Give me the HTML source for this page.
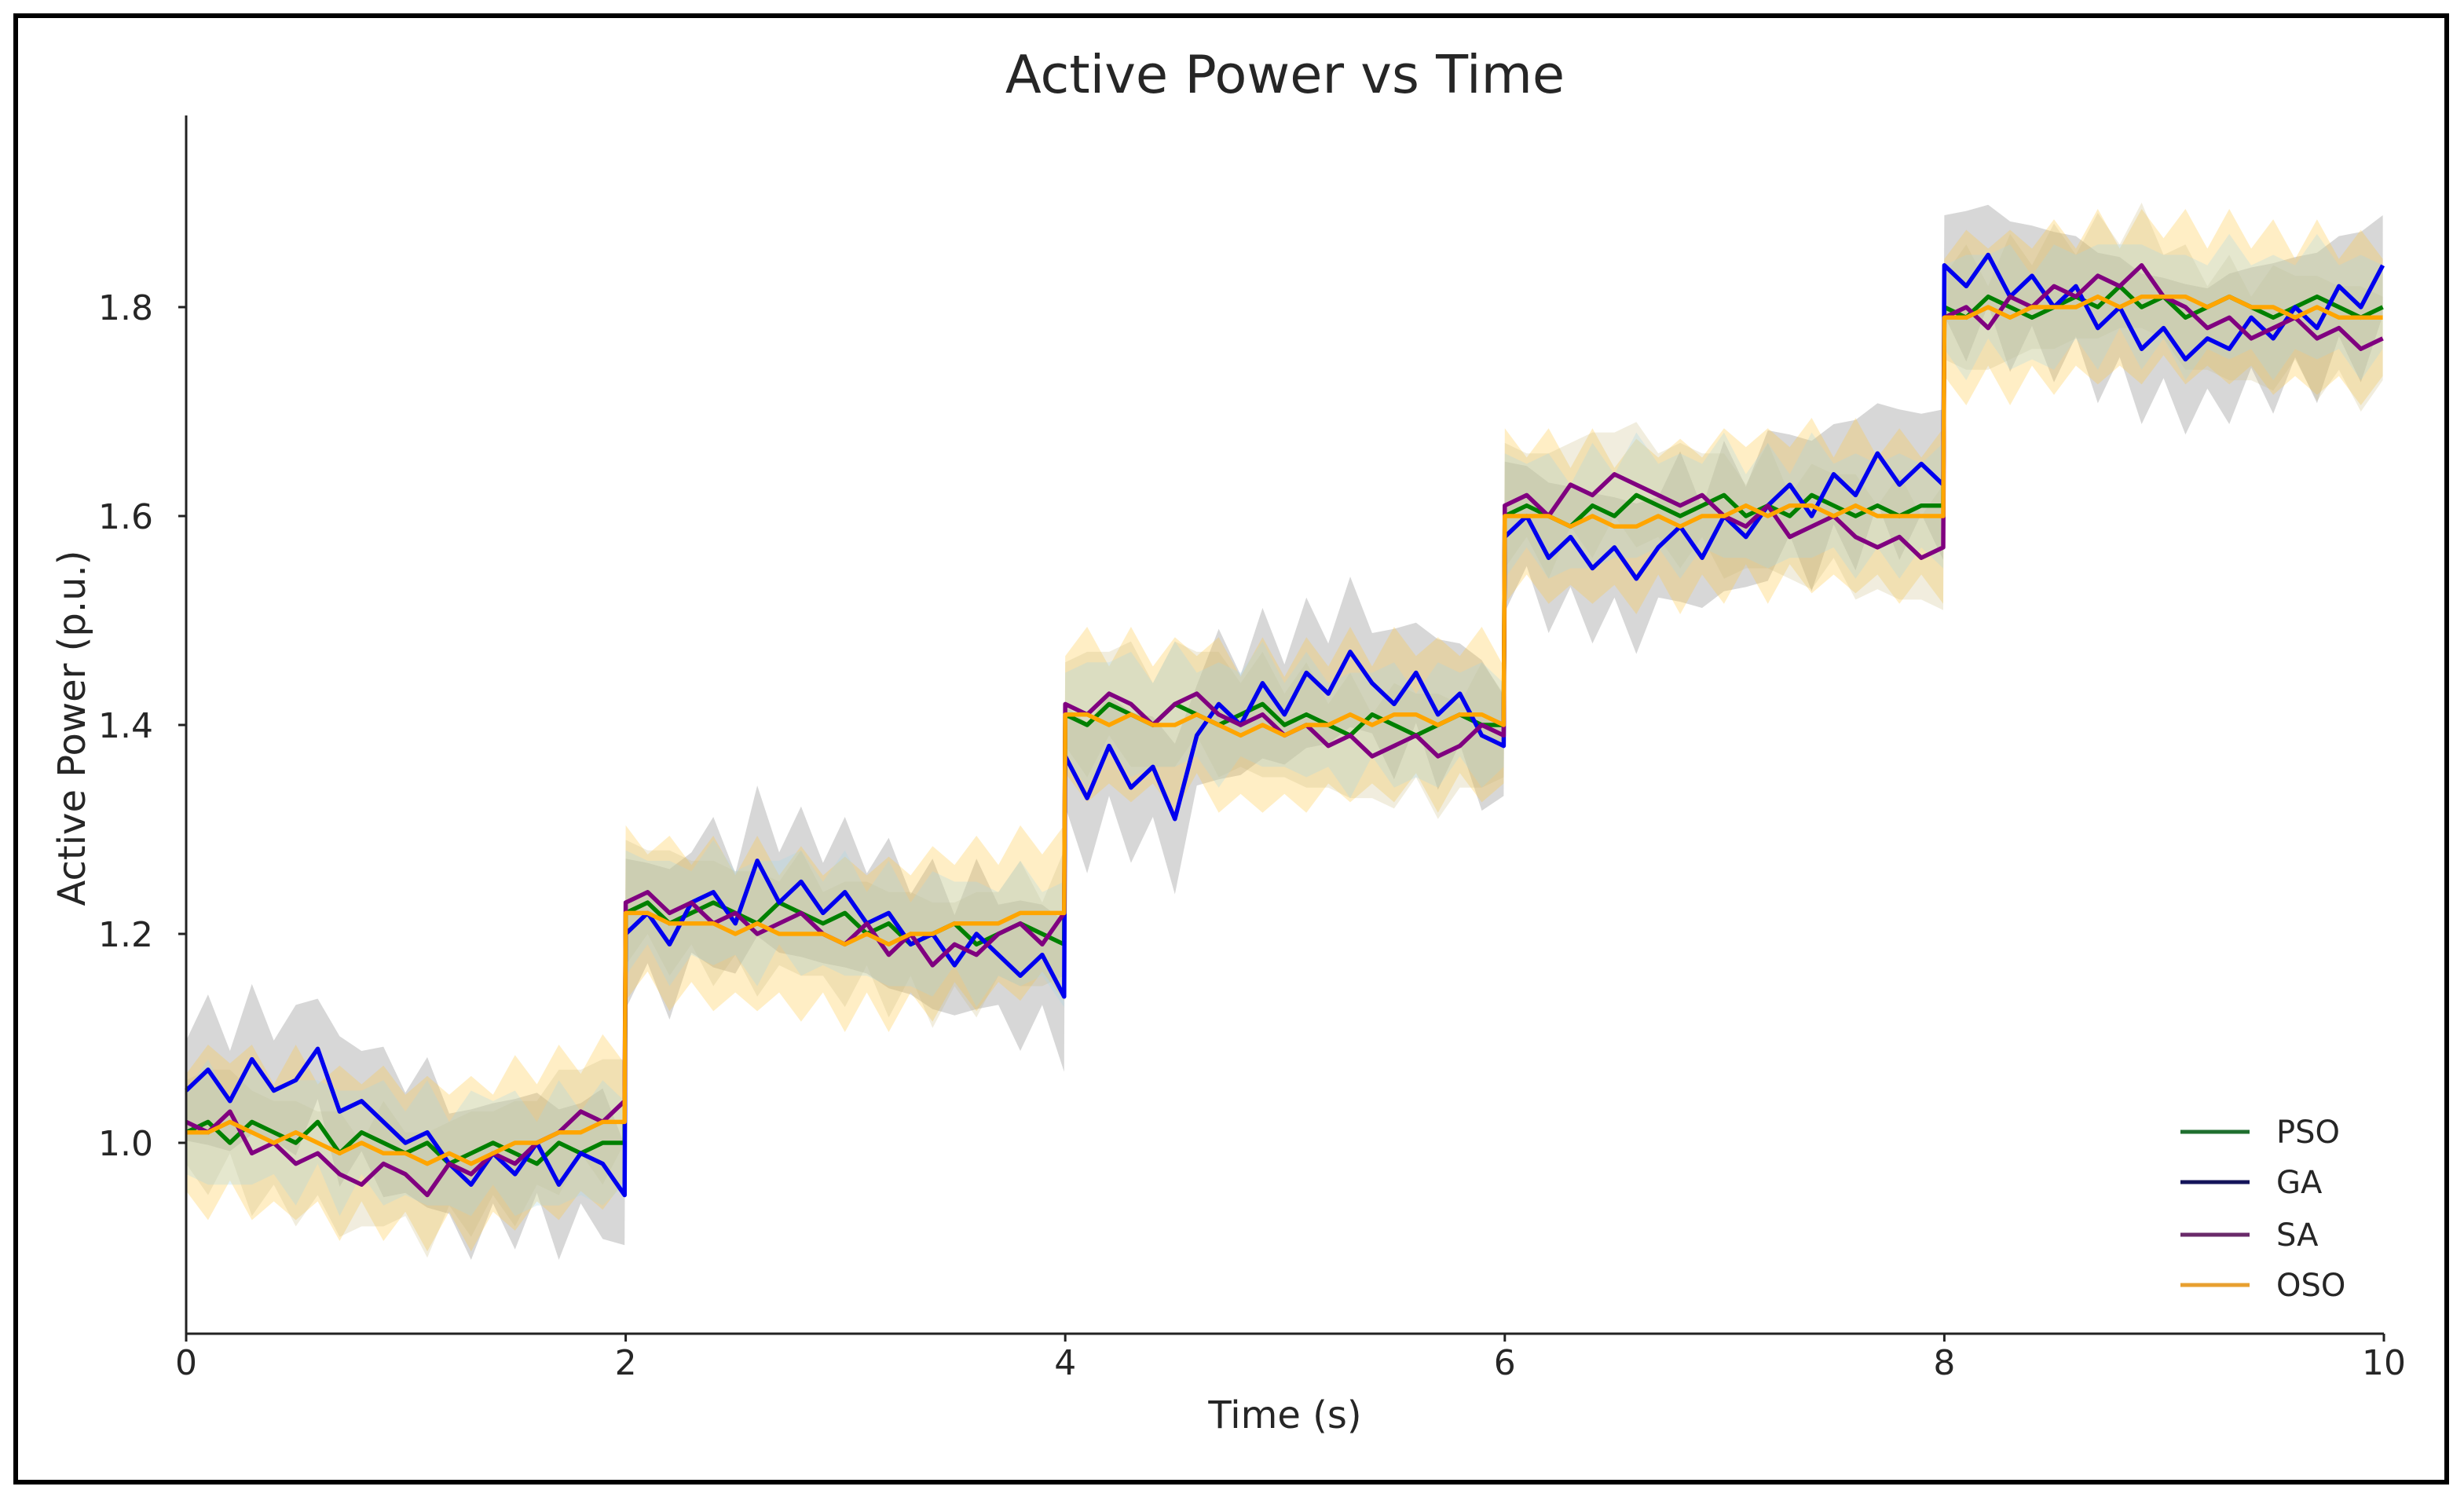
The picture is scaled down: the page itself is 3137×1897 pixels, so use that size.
<!DOCTYPE html>
<html><head><meta charset="utf-8"><style>
html,body{margin:0;padding:0;background:#fff}
svg{display:block}
text{font-family:"DejaVu Sans","Liberation Sans",sans-serif;fill:#262626}
</style></head><body>
<svg id="chart" width="3137" height="1897" viewBox="0 0 3137 1897" xmlns="http://www.w3.org/2000/svg">
<rect x="20" y="20" width="3095" height="1867" fill="#fff" stroke="#000" stroke-width="6"/>
<text x="1636" y="118" font-size="67" text-anchor="middle">Active Power vs Time</text>
<g id="bands"></g>
<g id="lines"></g>
<g id="axes"></g>
<text x="1636" y="1818" font-size="48" text-anchor="middle">Time (s)</text>
<text transform="translate(108,927) rotate(-90)" font-size="48" text-anchor="middle">Active Power (p.u.)</text>
<g id="legend"></g>
</svg>
<script>
const seriesNames = ["PSO","GA","SA","OSO"];
const pso = [1.01,1.02,1.00,1.02,1.01,1.00,1.02,0.99,1.01,1.00,0.99,1.00,0.98,0.99,1.00,0.99,0.98,1.00,0.99,1.00,1.00,
1.22,1.23,1.21,1.22,1.23,1.22,1.21,1.23,1.22,1.21,1.22,1.20,1.21,1.19,1.20,1.21,1.19,1.20,1.21,1.20,1.19,
1.41,1.40,1.42,1.41,1.40,1.42,1.41,1.40,1.41,1.42,1.40,1.41,1.40,1.39,1.41,1.40,1.39,1.40,1.41,1.40,1.40,
1.60,1.61,1.60,1.59,1.61,1.60,1.62,1.61,1.60,1.61,1.62,1.60,1.61,1.60,1.62,1.61,1.60,1.61,1.60,1.61,1.61,
1.80,1.79,1.81,1.80,1.79,1.80,1.81,1.80,1.82,1.80,1.81,1.79,1.80,1.81,1.80,1.79,1.80,1.81,1.80,1.79,1.80];
const ga = [1.05,1.07,1.04,1.08,1.05,1.06,1.09,1.03,1.04,1.02,1.00,1.01,0.98,0.96,0.99,0.97,1.00,0.96,0.99,0.98,0.95,
1.20,1.22,1.19,1.23,1.24,1.21,1.27,1.23,1.25,1.22,1.24,1.21,1.22,1.19,1.20,1.17,1.20,1.18,1.16,1.18,1.14,
1.37,1.33,1.38,1.34,1.36,1.31,1.39,1.42,1.40,1.44,1.41,1.45,1.43,1.47,1.44,1.42,1.45,1.41,1.43,1.39,1.38,
1.58,1.60,1.56,1.58,1.55,1.57,1.54,1.57,1.59,1.56,1.60,1.58,1.61,1.63,1.60,1.64,1.62,1.66,1.63,1.65,1.63,
1.84,1.82,1.85,1.81,1.83,1.80,1.82,1.78,1.80,1.76,1.78,1.75,1.77,1.76,1.79,1.77,1.80,1.78,1.82,1.80,1.84];
const sa = [1.02,1.01,1.03,0.99,1.00,0.98,0.99,0.97,0.96,0.98,0.97,0.95,0.98,0.97,0.99,0.98,1.00,1.01,1.03,1.02,1.04,
1.23,1.24,1.22,1.23,1.21,1.22,1.20,1.21,1.22,1.20,1.19,1.21,1.18,1.20,1.17,1.19,1.18,1.20,1.21,1.19,1.22,
1.42,1.41,1.43,1.42,1.40,1.42,1.43,1.41,1.40,1.41,1.39,1.40,1.38,1.39,1.37,1.38,1.39,1.37,1.38,1.40,1.39,
1.61,1.62,1.60,1.63,1.62,1.64,1.63,1.62,1.61,1.62,1.60,1.59,1.61,1.58,1.59,1.60,1.58,1.57,1.58,1.56,1.57,
1.79,1.80,1.78,1.81,1.80,1.82,1.81,1.83,1.82,1.84,1.81,1.80,1.78,1.79,1.77,1.78,1.79,1.77,1.78,1.76,1.77];
const oso = [1.01,1.01,1.02,1.01,1.00,1.01,1.00,0.99,1.00,0.99,0.99,0.98,0.99,0.98,0.99,1.00,1.00,1.01,1.01,1.02,1.02,
1.22,1.22,1.21,1.21,1.21,1.20,1.21,1.20,1.20,1.20,1.19,1.20,1.19,1.20,1.20,1.21,1.21,1.21,1.22,1.22,1.22,
1.41,1.41,1.40,1.41,1.40,1.40,1.41,1.40,1.39,1.40,1.39,1.40,1.40,1.41,1.40,1.41,1.41,1.40,1.41,1.41,1.40,
1.60,1.60,1.60,1.59,1.60,1.59,1.59,1.60,1.59,1.60,1.60,1.61,1.60,1.61,1.61,1.60,1.61,1.60,1.60,1.60,1.60,
1.79,1.79,1.80,1.79,1.80,1.80,1.80,1.81,1.80,1.81,1.81,1.81,1.80,1.81,1.80,1.80,1.79,1.80,1.79,1.79,1.79];
const bandHalfWidth = [0.05,0.06,0.05,0.07];
const xTicks = [0,2,4,6,8,10];
const yTicks = [1.0,1.2,1.4,1.6,1.8];
const yTickLabels = ["1.0","1.2","1.4","1.6","1.8"];

const NS="http://www.w3.org/2000/svg";
const X0=237,X1=3035,Y_BOTTOM=1698,Y_TOP=147;
const xs=t=>X0+(t/10)*(X1-X0);
const ys=v=>1455-(v-1.0)*(1455-391)/0.8;
const allSeries=[pso,ga,sa,oso];
const lineColors=["#008000","#0000ee","#800080","#ffa500"];
const legendColors=["#1f6f2f","#14145a","#6a2a6a","#e8a030"];
const bandColors=["#a9d6e5","#8c8c8c","#c8b87a","#ffc640"];
const bandAlpha=[0.3,0.35,0.25,0.3];
const perSeg=21;
function timeAt(i){const s=Math.floor(i/perSeg),k=i%perSeg;return s*2+k*(1.995/(perSeg-1));}
function mk(tag,attrs,parent){const e=document.createElementNS(NS,tag);for(const k in attrs)e.setAttribute(k,attrs[k]);parent.appendChild(e);return e;}
const gB=document.getElementById('bands'),gL=document.getElementById('lines'),gA=document.getElementById('axes'),gLeg=document.getElementById('legend');
[1,3,2,0].forEach(si=>{
  const d=allSeries[si],hw=bandHalfWidth[si];
  let up=[],lo=[];
  d.forEach((v,i)=>{const t=timeAt(i);const j=(i%2?1:-1)*hw*0.2;up.push(xs(t).toFixed(1)+','+ys(v+hw+j).toFixed(1));lo.unshift(xs(t).toFixed(1)+','+ys(v-hw-j).toFixed(1));});
  const p=mk('polygon',{points:up.concat(lo).join(' '),fill:bandColors[si],'fill-opacity':bandAlpha[si],stroke:'none'},gB);
  
  
});
allSeries.forEach((d,si)=>{
  const pts=d.map((v,i)=>xs(timeAt(i)).toFixed(1)+','+ys(v).toFixed(1)).join(' ');
  const l=mk('polyline',{points:pts,fill:'none',stroke:lineColors[si],'stroke-width':5.5,'stroke-linejoin':'round'},gL);
  
  
});
const xa=mk('line',{x1:X0,y1:Y_BOTTOM,x2:X1,y2:Y_BOTTOM,stroke:'#222','stroke-width':3},gA);


const ya=mk('line',{x1:X0,y1:Y_TOP,x2:X0,y2:Y_BOTTOM,stroke:'#222','stroke-width':3},gA);


xTicks.forEach(t=>{
  const tk=mk('line',{x1:xs(t),y1:Y_BOTTOM,x2:xs(t),y2:Y_BOTTOM+10,stroke:'#222','stroke-width':3},gA);
  
  
  const tx=mk('text',{x:xs(t),y:1750,'font-size':44,'text-anchor':'middle'},gA);
  tx.textContent=String(t);
  
  
});
yTicks.forEach((v,i)=>{
  const tk=mk('line',{x1:X0-10,y1:ys(v),x2:X0,y2:ys(v),stroke:'#222','stroke-width':3},gA);
  
  
  const tx=mk('text',{x:195,y:ys(v)+16,'font-size':44,'text-anchor':'end'},gA);
  tx.textContent=yTickLabels[i];
  
  
});
const legY=[1441,1505,1572,1636];
seriesNames.forEach((n,i)=>{
  const l=mk('line',{x1:2776,y1:legY[i],x2:2864,y2:legY[i],stroke:legendColors[i],'stroke-width':5},gLeg);
  
  
  const t=mk('text',{x:2898,y:legY[i]+14,'font-size':40},gLeg);
  t.textContent=n;
  
  
});
</script>
</body></html>
